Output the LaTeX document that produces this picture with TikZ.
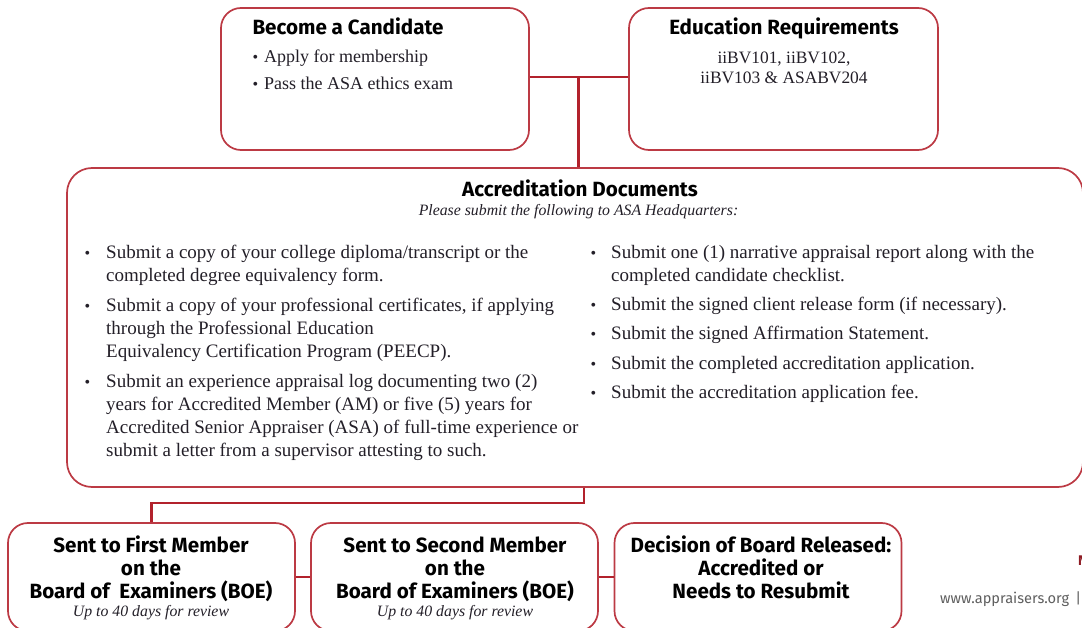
\documentclass[tikz,border=0pt]{standalone}
\usepackage{fontspec}
\setmainfont{Liberation Serif}
\newfontfamily\headfont{Fira Sans}
\definecolor{asared}{RGB}{178,34,44}
\definecolor{boxred}{RGB}{188,58,68}
\definecolor{txt}{RGB}{35,31,40}
\definecolor{webgray}{RGB}{95,95,95}
\newcommand{\bul}[1]{\llap{{\fontsize{16}{16}\selectfont\textbullet}\hspace{#1}}}
\begin{document}
\begin{tikzpicture}[x=1pt,y=-1pt,
  box/.style={draw=boxred, line width=1.7pt, rounded corners=20pt, inner sep=0pt, fill=white},
  link/.style={draw=asared, line width=2.3pt},
  head/.style={font=\headfont\bfseries\fontsize{20.6}{22.7}\selectfont, text=black, anchor=base, align=center, inner sep=0pt},
  body/.style={font=\fontsize{19}{23}\selectfont, text=txt, anchor=base west, align=left, inner sep=0pt},
  small/.style={font=\fontsize{17.4}{20.5}\selectfont, text=txt, anchor=base, align=center, inner sep=0pt},
  note/.style={font=\itshape\fontsize{15.8}{16}\selectfont, text=txt, anchor=base, inner sep=0pt}
]
\useasboundingbox (0,0) rectangle (1082,628);
\clip (0,0) rectangle (1082,628);
\fill[white] (0,0) rectangle (1082,628);

% boxes
\node[box, minimum width=308pt, minimum height=142pt] (cand) at (375,79) {};
\node[box, minimum width=309pt, minimum height=142pt] (edu) at (783.5,79) {};
\node[box, rounded corners=25pt, minimum width=1016pt, minimum height=319pt] (docs) at (575,327.5) {};
\node[box, minimum width=287pt, minimum height=108pt] (boe1) at (151.5,577) {};
\node[box, minimum width=287pt, minimum height=108pt] (boe2) at (454.5,577) {};
\node[box, minimum width=287pt, minimum height=108pt] (dec) at (758,577) {};

% connectors
\coordinate (j1) at (578.5,77);
\draw[link] (cand.east |- j1) -- (edu.west |- j1);
\draw[link] (j1) -- (j1 |- docs.north);
\coordinate (j2) at (584,503);
\draw[link] (j2 |- docs.south) -- (j2) -| (boe1.north);
\draw[link] (boe1.east) -- (boe2.west);
\draw[link] (boe2.east) -- (dec.west);

% Become a Candidate
\node[head] (candT) at (348,34.5) {Become a Candidate};
\node[body, font=\fontsize{18}{23}\selectfont] (candB) at (264,89.5) {\bul{6pt}Apply for membership\\[3.5pt]\bul{6pt}Pass the ASA ethics exam};

% Education Requirements
\node[head] (eduT) at (784,35) {Education Requirements};
\node[small] (eduB) at (784,84) {iiBV101, iiBV102,\\iiBV103 \& ASABV204};

% Accreditation Documents
\node[head] (docsT) at (580,197) {Accreditation Documents};
\node[note] (docsS) at (578.5,215.5) {Please submit the following to ASA Headquarters:};
\node[body] (left) at (106,456) {%
\bul{16pt}Submit a copy of your college diploma/transcript or the\\
completed degree equivalency form.\\[7pt]
\bul{16pt}Submit a copy of your professional certificates, if applying\\
through the Professional Education\\
Equivalency Certification Program (PEECP).\\[7pt]
\bul{16pt}Submit an experience appraisal log documenting two (2)\\
years for Accredited Member (AM) or five (5) years for\\
Accredited Senior Appraiser (ASA) of full-time experience or\\
submit a letter from a supervisor attesting to such.};
\node[body] (right) at (611,399) {%
\bul{15pt}Submit one (1) narrative appraisal report along with the\\
completed candidate checklist.\\[6.5pt]
\bul{15pt}Submit the signed client release form (if necessary).\\[6.5pt]
\bul{15pt}Submit the signed Affirmation Statement.\\[6.5pt]
\bul{15pt}Submit the completed accreditation application.\\[6.5pt]
\bul{15pt}Submit the accreditation application fee.};

% bottom boxes
\node[head] (boe1T) at (151,598) {Sent to First Member\\on the\\Board of\ \ Examiners (BOE)};
\node[note] (boe1N) at (151,616) {Up to 40 days for review};
\node[head] (boe2T) at (455,598) {Sent to Second Member\\on the\\Board of Examiners (BOE)};
\node[note] (boe2N) at (455,616) {Up to 40 days for review};
\node[head] (decT) at (761,598) {Decision of Board Released:\\Accredited or\\Needs to Resubmit};

% footer
\node[font=\headfont\fontsize{14.6}{15}\selectfont, text=webgray, anchor=base west, inner sep=0pt] (web) at (940,603) {www.appraisers.org \,|};
\node[font=\headfont\bfseries\fontsize{14}{14}\selectfont, text=asared!80!black, anchor=base west, inner sep=0pt] (cut) at (1078,565) {N};
\end{tikzpicture}
\end{document}
